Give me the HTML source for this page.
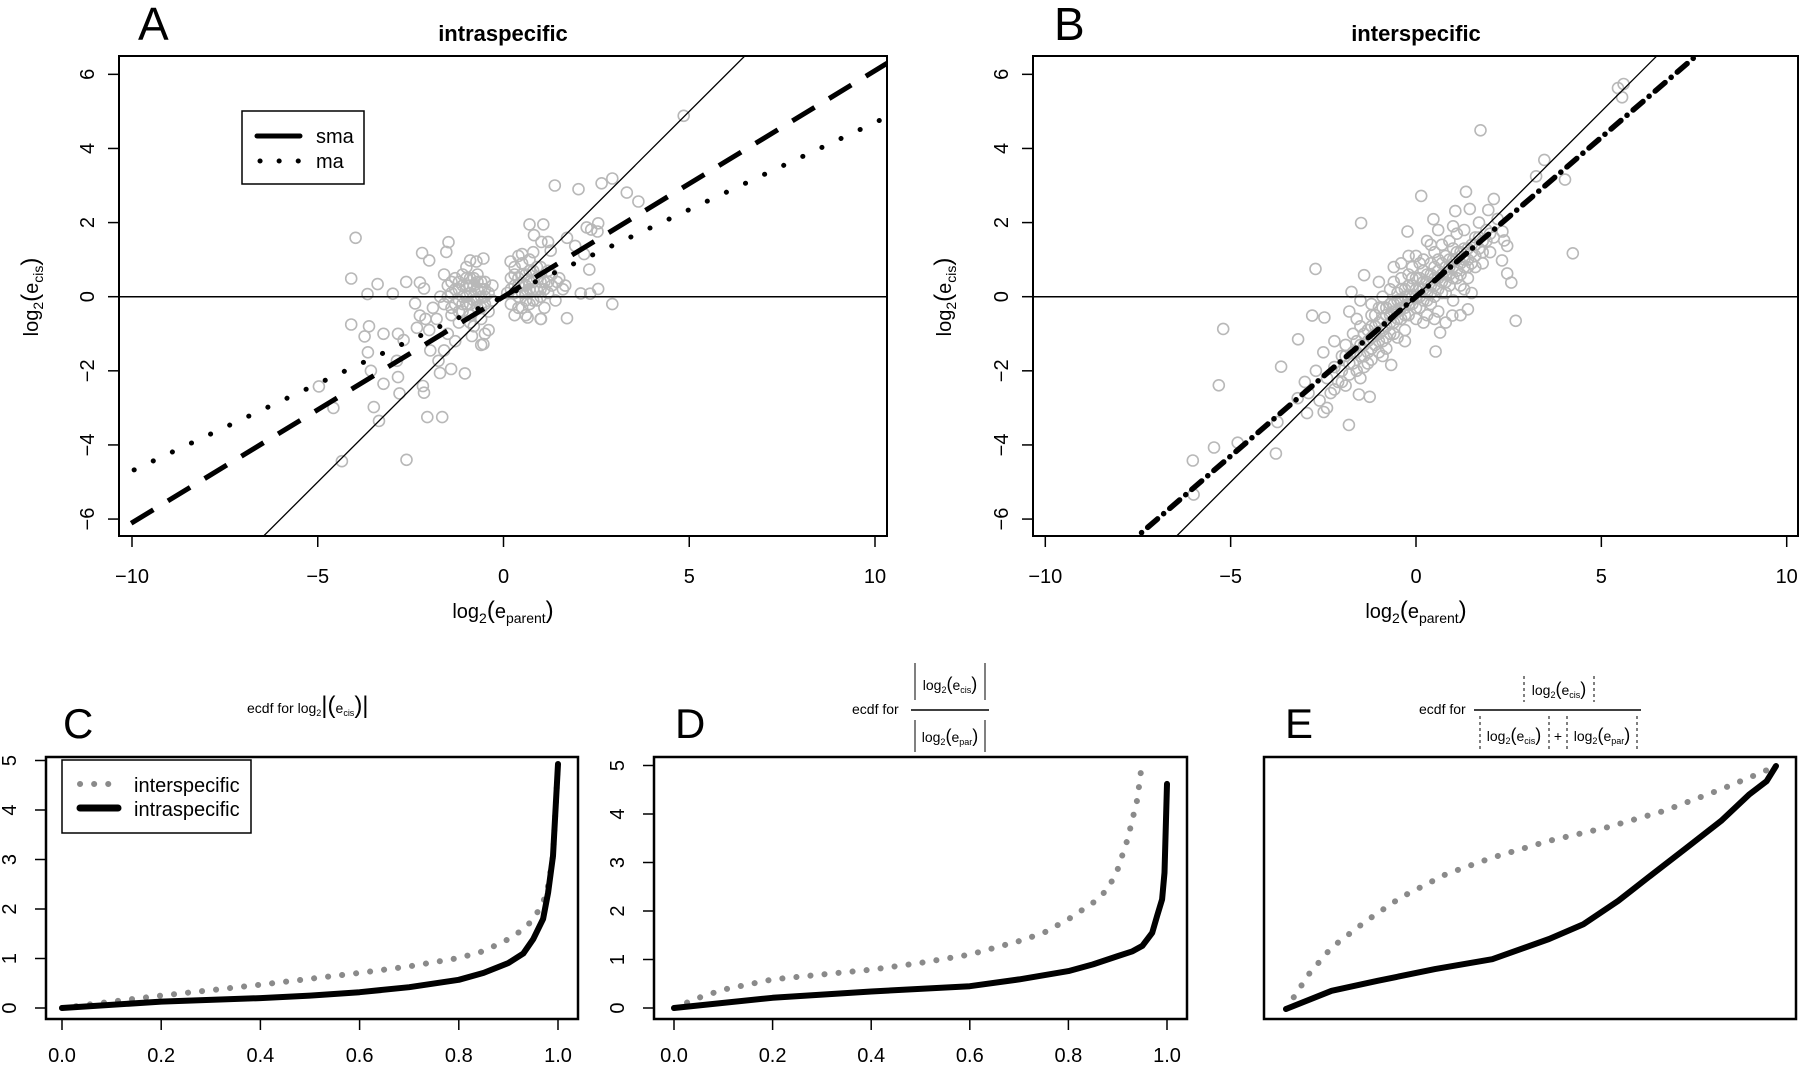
<!DOCTYPE html>
<html><head><meta charset="utf-8"><style>
html,body{margin:0;padding:0;background:#fff;}
svg{display:block;font-family:"Liberation Sans",sans-serif;}
</style></head><body>
<svg id="fig" xmlns="http://www.w3.org/2000/svg" width="1800" height="1065" viewBox="0 0 1800 1065">
<rect x="0" y="0" width="1800" height="1065" fill="#fff"/>
<text x="138" y="40" font-size="46">A</text>
<text x="503" y="41" font-size="22" font-weight="bold" text-anchor="middle">intraspecific</text>
<text x="1054" y="40" font-size="46">B</text>
<text x="1416" y="41" font-size="22" font-weight="bold" text-anchor="middle">interspecific</text>
<text x="63" y="738" font-size="42">C</text>
<text x="675" y="738" font-size="42">D</text>
<text x="1285" y="738" font-size="42">E</text>
<g id="layer"></g>
</svg>
<script>
// ---- data ----
const aTicksX = [-10, -5, 0, 5, 10];
const aTicksY = [-6, -4, -2, 0, 2, 4, 6];
const smaSlopeA = 0.61, maSlopeA = 0.47, lineSlopeB = 0.86;
const ptsAOut = [[4.85,4.88],[1.38,3.0],[2.02,2.9],[2.64,3.06],[2.93,3.19],[3.32,2.81],[3.63,2.57],[-3.98,1.59],[-4.1,0.49],[-3.39,0.34],[-3.66,0.07],[-4.1,-0.75],[-3.62,-0.8],[-3.74,-1.07],[-3.23,-1.0],[-3.65,-1.5],[-3.57,-2.0],[-3.23,-2.35],[-4.97,-2.42],[-4.58,-3.0],[-3.49,-2.98],[-3.35,-3.35],[-4.35,-4.44],[-2.61,-4.4],[-2.05,-3.25],[-1.65,-3.25],[-1.04,-2.07],[-2.14,-2.59],[-2.17,-2.41],[-2.84,-2.17],[-2.8,-2.61],[-2.87,-1.73],[-2.84,-1.0],[-2.69,-1.17],[-2.98,0.08],[-2.62,0.4],[-2.25,0.38],[-2.14,0.22],[-2.19,1.18],[-2.0,0.98],[-1.48,1.47],[-1.54,1.21],[-0.9,0.98],[-0.54,1.03],[-0.73,0.95],[2.24,1.87],[2.55,1.98],[2.36,1.81],[2.53,1.76],[1.71,1.59],[1.93,1.37],[2.17,1.15],[2.31,0.73],[2.08,0.09],[2.33,0.08],[2.55,0.21],[2.93,-0.2],[1.71,-0.58],[1.66,0.3],[1.44,0.4],[0.65,-0.56],[1.01,-0.6],[0.7,1.95],[1.07,1.95],[0.82,1.66],[1.02,1.48],[1.2,1.48],[0.19,0.95],[0.5,1.15],[1.27,1.24],[-0.54,-1.28],[-0.85,-1.06],[-1.75,-1.73],[-1.71,-2.06],[-1.41,-1.95],[-1.6,-1.45],[-1.97,-1.45],[-2.33,-0.84],[-2.25,-0.51],[-2.38,-0.18]];
const ptsACore = [[-1.6,-0.2],[-1.5,0.3],[-1.4,-0.5],[-1.4,0.1],[-1.3,0.5],[-1.3,-0.2],[-1.2,0.2],[-1.2,-0.7],[-1.1,0.0],[-1.1,0.6],[-1.1,-0.4],[-1.0,0.3],[-1.0,-0.2],[-1.0,0.8],[-0.9,0.1],[-0.9,-0.5],[-0.9,0.5],[-0.8,-0.1],[-0.8,0.3],[-0.8,-0.8],[-0.7,0.2],[-0.7,-0.3],[-0.7,0.6],[-0.6,0.0],[-0.6,-0.6],[-0.6,0.4],[-0.5,-0.2],[-0.5,0.2],[-0.5,-1.0],[-0.4,0.1],[-0.4,-0.4],[-0.3,0.3],[-0.3,-0.1],[-1.7,0.0],[-1.8,-0.6],[-1.6,0.6],[-1.9,-0.3],[-2.1,-0.6],[-2.0,-0.9],[-1.5,-1.0],[-1.3,-1.2],[-0.6,-1.3],[-0.4,-0.9],[0.1,0.1],[0.2,0.5],[0.2,-0.2],[0.3,0.3],[0.3,0.8],[0.4,0.0],[0.4,0.5],[0.5,-0.3],[0.5,0.3],[0.5,0.9],[0.6,0.1],[0.6,0.6],[0.7,-0.2],[0.7,0.4],[0.7,1.0],[0.8,0.2],[0.8,0.7],[0.9,-0.1],[0.9,0.5],[1.0,0.2],[1.0,0.8],[1.1,-0.3],[1.1,0.4],[1.2,0.1],[1.2,0.7],[1.3,0.3],[1.4,-0.1],[1.5,0.5],[0.3,-0.5],[0.6,-0.5],[1.0,-0.6],[1.6,0.2],[0.4,1.1],[0.8,1.2],
[-1.4,-0.3],[-1.3,0.2],[-1.2,-0.1],[-1.2,0.4],[-1.1,-0.2],[-1.1,0.3],[-1.0,0.0],[-1.0,0.5],[-0.9,-0.2],[-0.9,0.3],[-0.8,0.0],[-0.8,0.5],[-0.7,-0.1],[-0.7,0.4],[-0.6,0.2],[-0.6,-0.3],[-0.5,0.0],[-0.5,0.4],[-1.5,0.0],[-1.4,0.4],[-1.2,-0.4],[-0.9,-0.7],[0.3,0.1],[0.4,0.3],[0.5,0.1],[0.5,0.6],[0.6,0.3],[0.6,-0.1],[0.7,0.2],[0.7,0.7],[0.8,0.4],[0.8,-0.1],[0.9,0.2],[0.9,0.8],[1.0,0.4],[1.0,0.0],[1.1,0.2],[1.2,0.4],[0.2,0.2],[0.3,0.6],[0.4,-0.3],[1.3,0.6]];
const ptsBOut = [[5.56,5.38],[5.45,5.63],[5.6,5.74],[1.74,4.49],[3.46,3.69],[3.24,3.25],[4.02,3.16],[4.23,1.17],[2.69,-0.65],[2.57,0.38],[1.35,2.83],[0.14,2.72],[-1.48,1.99],[-2.71,0.75],[-5.2,-0.87],[-5.32,-2.39],[-6.02,-4.42],[-5.45,-4.07],[-4.81,-3.94],[-3.78,-4.23],[-6.0,-5.34],[-1.81,-3.46],[-3.18,-1.15],[-3.64,-1.89],[-2.8,-0.51],[-2.47,-0.56],[-1.25,-2.7],[-1.54,-2.64],[-2.49,-3.11],[-2.94,-3.14],[-3.74,-3.38],[-3.19,-2.74],[-0.67,-1.84],[0.53,-1.48],[0.65,-0.97],[0.98,-0.51],[1.4,-0.34],[2.33,1.76],[2.46,1.37],[2.38,1.52],[2.32,0.98],[2.46,0.63],[2.1,2.64],[1.95,2.34],[1.45,2.37],[1.06,2.31],[-0.23,1.76],[0.47,2.09],[-1.4,0.58],[-1.74,0.13]];
const ptsBCore = [[-2.4,-2.2],[-2.3,-2.6],[-2.2,-1.9],[-2.1,-2.3],[-2.0,-1.6],[-2.0,-2.0],[-1.9,-2.4],[-1.9,-1.3],[-1.8,-1.8],[-1.8,-2.1],[-1.7,-1.5],[-1.7,-1.0],[-1.6,-2.0],[-1.6,-1.2],[-1.5,-1.6],[-1.5,-0.8],[-1.4,-1.3],[-1.4,-1.9],[-1.3,-0.9],[-1.3,-1.5],[-1.2,-0.5],[-1.2,-1.1],[-1.2,-1.7],[-1.1,-0.8],[-1.1,-1.3],[-1.0,-0.3],[-1.0,-1.0],[-1.0,-1.5],[-0.9,-0.6],[-0.9,-1.2],[-0.9,0.0],[-0.8,-0.8],[-0.8,-0.3],[-0.8,-1.4],[-0.7,-0.5],[-0.7,0.2],[-0.7,-1.0],[-0.6,-0.2],[-0.6,-0.7],[-0.6,0.4],[-0.5,-0.4],[-0.5,-1.1],[-0.5,0.1],[-0.4,-0.1],[-0.4,-0.6],[-0.4,0.5],[-0.3,-0.3],[-0.3,0.2],[-0.3,-0.9],[-0.2,0.0],[-0.2,0.6],[-0.2,-0.5],[-0.1,0.3],[-0.1,-0.2],[-0.1,0.8],[0.0,0.0],[0.0,0.5],[0.0,-0.6],[0.1,0.2],[0.1,0.9],[0.1,-0.3],[0.2,0.4],[0.2,-0.1],[0.2,1.0],[0.3,0.6],[0.3,0.1],[0.3,-0.5],[0.4,0.3],[0.4,0.9],[0.4,-0.2],[0.5,0.5],[0.5,1.2],[0.5,0.0],[0.6,0.7],[0.6,0.2],[0.6,-0.4],[0.7,0.9],[0.7,0.4],[0.7,1.4],[0.8,0.6],[0.8,0.1],[0.8,1.1],[0.9,0.8],[0.9,0.3],[0.9,1.5],[1.0,1.0],[1.0,0.5],[1.0,-0.1],[1.1,1.2],[1.1,0.7],[1.1,1.7],[1.2,0.9],[1.2,0.3],[1.3,1.3],[1.3,0.8],[1.3,1.8],[1.4,1.0],[1.4,0.5],[1.5,1.4],[1.5,0.9],[1.6,1.6],[1.6,1.1],[1.7,1.3],[1.7,2.0],[1.8,1.5],[1.8,0.9],[1.9,1.8],[2.0,1.2],[2.1,1.6],[2.2,2.1],[-1.5,-0.1],[-1.8,-0.4],[-2.2,-1.2],[-2.5,-1.5],[-2.7,-2.0],[-2.6,-2.8],[-2.4,-3.0],[-2.9,-2.6],[-3.0,-2.3],[0.6,1.8],[0.3,1.5],[-0.2,1.1],[1.2,-0.5],[0.8,-0.7],[1.5,0.1],[-0.6,0.8],[-1.0,0.4],
[-2.2,-2.5],[-2.0,-2.3],[-1.9,-1.6],[-1.7,-1.8],[-1.6,-1.5],[-1.5,-1.3],[-1.5,-2.2],[-1.4,-1.0],[-1.4,-1.6],[-1.3,-1.2],[-1.2,-1.4],[-1.2,-0.8],[-1.1,-1.0],[-1.1,-0.5],[-1.0,-0.7],[-1.0,-1.2],[-0.9,-0.9],[-0.9,-0.3],[-0.8,-0.5],[-0.8,-1.1],[-0.7,-0.7],[-0.7,-0.2],[-0.6,-0.4],[-0.6,-1.0],[-0.5,-0.6],[-0.5,-0.1],[-0.4,-0.3],[-0.4,0.2],[-0.3,-0.5],[-0.3,0.0],[-0.2,-0.2],[-0.2,0.3],[-0.1,0.0],[-0.1,0.5],[0.0,0.2],[0.0,-0.3],[0.1,0.5],[0.1,0.0],[0.2,0.2],[0.2,0.7],[0.3,0.4],[0.3,-0.1],[0.4,0.6],[0.4,0.1],[0.5,0.3],[0.5,0.8],[0.6,0.5],[0.6,1.0],[0.7,0.6],[0.7,0.1],[0.8,0.8],[0.8,0.4],[0.9,1.0],[0.9,0.6],[1.0,1.3],[1.0,0.8],[1.1,1.0],[1.1,0.5],[1.2,1.2],[1.2,0.6],[1.3,1.0],[1.4,1.3],[1.4,0.8],[1.5,1.2],[1.6,1.4],[1.6,0.8],[1.7,1.6],[1.8,1.2],[1.9,1.5],[2.0,1.7],[-0.9,-1.6],[-1.3,-1.8],[-0.3,-1.2],[0.2,-0.7],[0.5,-0.6],[1.3,0.2],[0.0,1.1],[-0.4,0.9],[0.4,1.4],[1.0,1.9],[-1.2,-0.2],[-1.6,-0.6]];
const ecdfTicksX = [0, 0.2, 0.4, 0.6, 0.8, 1.0];
const ecdfTicksX_labels = ["0.0","0.2","0.4","0.6","0.8","1.0"];
const ecdfTicksY = [0, 1, 2, 3, 4, 5];
const cInterP = [0,0.1,0.2,0.3,0.4,0.5,0.6,0.7,0.8,0.85,0.9,0.93,0.95,0.97,0.98,0.99,1.0];
const cInterV = [0,0.13,0.25,0.36,0.47,0.59,0.71,0.84,1.01,1.15,1.39,1.59,1.79,2.13,2.47,3.07,4.93];
const cIntraP = [0,0.2,0.4,0.5,0.6,0.7,0.8,0.85,0.9,0.93,0.95,0.97,0.98,0.99,1.0];
const cIntraV = [0,0.13,0.2,0.25,0.32,0.42,0.57,0.71,0.91,1.1,1.39,1.8,2.33,3.07,4.93];
const dInterP = [0,0.05,0.1,0.2,0.3,0.4,0.5,0.6,0.7,0.75,0.8,0.85,0.88,0.9,0.92,0.94,0.95];
const dInterV = [0,0.21,0.38,0.59,0.69,0.79,0.93,1.1,1.38,1.55,1.83,2.17,2.45,2.86,3.48,4.31,5.1];
const dIntraP = [0,0.2,0.4,0.6,0.7,0.8,0.85,0.9,0.93,0.95,0.97,0.98,0.99,0.995,1.0];
const dIntraV = [0,0.21,0.34,0.45,0.59,0.76,0.9,1.07,1.17,1.28,1.55,1.9,2.24,2.79,4.62];
const eInterP = [0,0.047,0.093,0.164,0.234,0.327,0.421,0.537,0.654,0.771,0.888,0.97,1.0];
const eInterV = [0,0.144,0.253,0.363,0.459,0.555,0.623,0.692,0.747,0.815,0.904,0.973,1.0];
const eIntraP = [0,0.093,0.187,0.304,0.421,0.537,0.607,0.678,0.748,0.818,0.888,0.946,0.981,1.0];
const eIntraV = [0,0.075,0.116,0.164,0.205,0.288,0.349,0.445,0.555,0.664,0.774,0.884,0.938,1.0];

const NS = "http://www.w3.org/2000/svg";
const layer = document.getElementById('layer');
function mk(tag, attrs, parent){const e=document.createElementNS(NS,tag);for(const k in attrs)e.setAttribute(k,attrs[k]);(parent||layer).appendChild(e);return e;}

const xA = v => 503.5 + v*37.15, yA = v => 296.7 - v*37.06;
const xB = v => 1416 + v*37.07, yB = yA;
const xC = v => 62 + v*496, yC = v => 1008 - v*49.5;
const xD = v => 674 + v*493, yD = v => 1008 - v*48.5;
const xE = v => 1286 + v*490, yE = v => 1009 - v*243;

const defs = mk('defs',{});
function clip(id,x,y,w,h){const c=mk('clipPath',{id:id},defs);mk('rect',{x:x,y:y,width:w,height:h},c);}
clip('clipA',119,56,768,480);clip('clipB',1033,56,765,480);
clip('clipC',46,757,532,262);clip('clipD',654,757,533,262);clip('clipE',1264,757,532,262);

function scatterPanel(name, fx, fy, clipId, pts1, pts2, box, lines){
  const g = mk('g',{'clip-path':'url(#'+clipId+')'});
  
  
  [...pts1,...pts2].forEach(p=>{
    const c = mk('circle',{cx:fx(p[0]).toFixed(1),cy:fy(p[1]).toFixed(1),r:5.5,fill:'none',stroke:'#b8b8b8','stroke-width':1.6},g);
    
    
  });
  lines(g);
  const b = mk('rect',{x:box[0],y:box[1],width:box[2]-box[0],height:box[3]-box[1],fill:'none',stroke:'#000','stroke-width':2});
  
  
}
function lineFn(g, fx, fy, slope, style, nm){
  const l = mk('line',Object.assign({x1:fx(-12),y1:fy(-12*slope),x2:fx(12),y2:fy(12*slope),stroke:'#000'},style),g);
  
  
}
function xAxis(fx, ticks, labels, yTop, yLab, fs, nm){
  ticks.forEach((t,i)=>{
    mk('line',{x1:fx(t),x2:fx(t),y1:yTop,y2:yTop+11,stroke:'#000','stroke-width':1.5});
    const tx = mk('text',{x:fx(t),y:yLab,'font-size':fs,'text-anchor':'middle'});
    tx.textContent = labels[i];
    
    
  });
}
function yAxis(fy, ticks, xRight, xLab, fs, nm){
  ticks.forEach(t=>{
    mk('line',{x1:xRight-11,x2:xRight,y1:fy(t),y2:fy(t),stroke:'#000','stroke-width':1.5});
    const tx = mk('text',{x:xLab,y:fy(t),'font-size':fs,'text-anchor':'middle',transform:'rotate(-90 '+xLab+' '+fy(t)+')'});
    tx.textContent = String(t).replace('-','\u2212');
    
    
  });
}
const fmt = v => String(v).replace('-','\u2212');

scatterPanel('panel-a', xA, yA, 'clipA', ptsAOut, ptsACore, [119,56,887,536], g=>{
  mk('line',{x1:119,x2:887,y1:yA(0),y2:yA(0),stroke:'#000','stroke-width':1.5},g);
  lineFn(g,xA,yA,1,{'stroke-width':1.3},'identity-line');
  lineFn(g,xA,yA,smaSlopeA,{'stroke-width':5,'stroke-dasharray':'26 17'},'sma-line');
  lineFn(g,xA,yA,maSlopeA,{'stroke-width':5,'stroke-linecap':'round','stroke-dasharray':'0.1 21'},'ma-line');
});
xAxis(xA, aTicksX, aTicksX.map(fmt), 536, 583, 20, 'x-axis-a');
yAxis(yA, aTicksY, 119, 94, 20, 'y-axis-a');
scatterPanel('panel-b', xB, yB, 'clipB', ptsBOut, ptsBCore, [1033,56,1798,536], g=>{
  mk('line',{x1:1033,x2:1798,y1:yB(0),y2:yB(0),stroke:'#000','stroke-width':1.5},g);
  lineFn(g,xB,yB,1,{'stroke-width':1.3},'identity-line');
  lineFn(g,xB,yB,lineSlopeB,{'stroke-width':5.5,'stroke-linecap':'round','stroke-dasharray':'13 8 0.1 8'},'fit-line');
});
xAxis(xB, aTicksX, aTicksX.map(fmt), 536, 583, 20, 'x-axis-b');
yAxis(yB, aTicksY, 1033, 1008, 20, 'y-axis-b');

function logLabel(x,y,sub,rot,nm){
  const t = mk('text',{x:x,y:y,'font-size':20,'text-anchor':'middle'});
  if(rot) t.setAttribute('transform','rotate(-90 '+x+' '+y+')');
  t.innerHTML = 'log<tspan font-size="14" dy="5">2</tspan><tspan dy="-5" font-size="24">(</tspan>e<tspan font-size="14" dy="5">'+sub+'</tspan><tspan dy="-5" font-size="24">)</tspan>';
  
  
}
logLabel(503,618,'parent',false,'x-axis-title-a');
logLabel(1416,618,'parent',false,'x-axis-title-b');
logLabel(38,297,'cis',true,'y-axis-title-a');
logLabel(951,297,'cis',true,'y-axis-title-b');

const lg = mk('g',{});


mk('rect',{x:242,y:111,width:122,height:73,fill:'#fff',stroke:'#000','stroke-width':1.5},lg);
mk('line',{x1:257,x2:300,y1:136,y2:136,stroke:'#000','stroke-width':5,'stroke-linecap':'round'},lg);
mk('line',{x1:260,x2:300,y1:161,y2:161,stroke:'#000','stroke-width':5,'stroke-linecap':'round','stroke-dasharray':'0.1 19'},lg);
const ls1=mk('text',{x:316,y:143,'font-size':20},lg); ls1.textContent='sma';


const ls2=mk('text',{x:316,y:168,'font-size':20},lg); ls2.textContent='ma';



function ecdfLine(g,fx,fy,P,V,style,nm){
  const pts = P.map((p,i)=>fx(p).toFixed(1)+','+fy(V[i]).toFixed(1)).join(' ');
  const pl = mk('polyline',Object.assign({points:pts,fill:'none','stroke-linejoin':'round'},style),g);
  
  
}
const grayStyle = {stroke:'#8a8a8a','stroke-width':6,'stroke-linecap':'round','stroke-dasharray':'0.1 14'};
const blackStyle = {stroke:'#000','stroke-width':6,'stroke-linecap':'round'};
function ecdfPanel(nm,fx,fy,clipId,box,iP,iV,jP,jV){
  const g = mk('g',{'clip-path':'url(#'+clipId+')'});
  
  
  ecdfLine(g,fx,fy,iP,iV,grayStyle,'interspecific-curve');
  ecdfLine(g,fx,fy,jP,jV,blackStyle,'intraspecific-curve');
  const b = mk('rect',{x:box[0],y:box[1],width:box[2]-box[0],height:box[3]-box[1],fill:'none',stroke:'#000','stroke-width':2.5});
  
  
}
ecdfPanel('panel-c',xC,yC,'clipC',[46,757,578,1019],cInterP,cInterV,cIntraP,cIntraV);
xAxis(xC, ecdfTicksX, ecdfTicksX_labels, 1019, 1062, 20, 'x-axis-c');
yAxis(yC, ecdfTicksY, 46, 16, 20, 'y-axis-c');
ecdfPanel('panel-d',xD,yD,'clipD',[654,757,1187,1019],dInterP,dInterV,dIntraP,dIntraV);
xAxis(xD, ecdfTicksX, ecdfTicksX_labels, 1019, 1062, 20, 'x-axis-d');
yAxis(yD, ecdfTicksY, 654, 624, 20, 'y-axis-d');
ecdfPanel('panel-e',xE,yE,'clipE',[1264,757,1796,1019],eInterP,eInterV,eIntraP,eIntraV);

const lc = mk('g',{});


mk('rect',{x:62,y:760,width:189,height:73,fill:'#fff',stroke:'#000','stroke-width':1.5},lc);
mk('line',{x1:80,x2:118,y1:784,y2:784,stroke:'#8a8a8a','stroke-width':6,'stroke-linecap':'round','stroke-dasharray':'0.1 14'},lc);
mk('line',{x1:80,x2:118,y1:808,y2:808,stroke:'#000','stroke-width':7,'stroke-linecap':'round'},lc);
const lt1=mk('text',{x:134,y:792,'font-size':20},lc); lt1.textContent='interspecific';


const lt2=mk('text',{x:134,y:816,'font-size':20},lc); lt2.textContent='intraspecific';



function sm(x,y,html,nm,anchor){
  const t = mk('text',{x:x,y:y,'font-size':14,'text-anchor':anchor||'start'});
  t.innerHTML = html;
  
  
  return t;
}
const logc = 'log<tspan font-size="9" dy="3">2</tspan><tspan dy="-3" font-size="18">(</tspan>e<tspan font-size="9" dy="3">cis</tspan><tspan dy="-3" font-size="18">)</tspan>';
const logp = 'log<tspan font-size="9" dy="3">2</tspan><tspan dy="-3" font-size="18">(</tspan>e<tspan font-size="9" dy="3">par</tspan><tspan dy="-3" font-size="18">)</tspan>';
sm(247,713,'ecdf for  log<tspan font-size="9" dy="3">2</tspan><tspan dy="-3" font-size="24">|(</tspan>e<tspan font-size="9" dy="3">cis</tspan><tspan dy="-3" font-size="24">)|</tspan>','title-c');
sm(852,714,'ecdf for','title-d');
mk('line',{x1:911,x2:989,y1:710,y2:710,stroke:'#000','stroke-width':1.5});
mk('line',{x1:915,x2:915,y1:663,y2:700,stroke:'#000','stroke-width':1});
mk('line',{x1:985,x2:985,y1:663,y2:700,stroke:'#000','stroke-width':1});
sm(950,690,logc,'title-d-numerator','middle');
mk('line',{x1:915,x2:915,y1:720,y2:752,stroke:'#000','stroke-width':1});
mk('line',{x1:985,x2:985,y1:720,y2:752,stroke:'#000','stroke-width':1});
sm(950,742,logp,'title-d-denominator','middle');
sm(1419,714,'ecdf for','title-e');
mk('line',{x1:1474,x2:1641,y1:710,y2:710,stroke:'#000','stroke-width':1.5});
[[1524,676,702],[1594,676,702],[1480,716,750],[1549,716,750],[1567,716,750],[1637,716,750]].forEach(d=>{
  mk('line',{x1:d[0],x2:d[0],y1:d[1],y2:d[2],stroke:'#000','stroke-width':1,'stroke-dasharray':'3 3'});
});
sm(1559,695,logc,'title-e-numerator','middle');
sm(1514,741,logc,'title-e-denominator-cis','middle');
sm(1558,741,'+','title-e-plus','middle');
sm(1602,741,logp,'title-e-denominator-par','middle');
</script>
</body></html>
